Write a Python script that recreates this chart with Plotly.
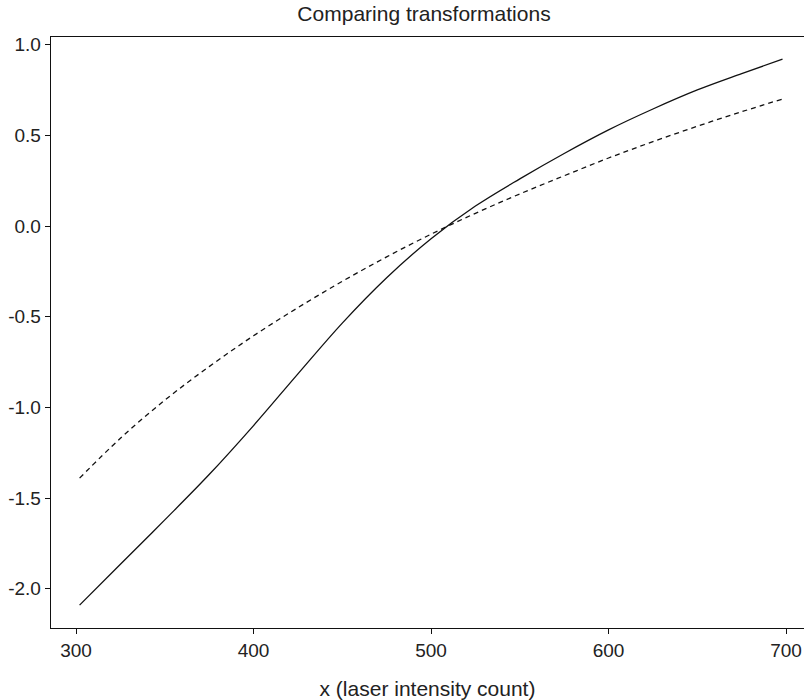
import plotly.graph_objects as go

# Data
x_vals = [302, 325, 350, 375, 400, 425, 450, 475, 500, 525, 550, 575, 600, 625, 650, 675, 698]
solid_vals = [-2.09, -1.865, -1.62, -1.37, -1.10, -0.815, -0.535, -0.285, -0.07, 0.11, 0.26,
              0.40, 0.53, 0.645, 0.75, 0.84, 0.92]
dashed_vals = [-1.39, -1.17, -0.96, -0.775, -0.605, -0.45, -0.305, -0.17, -0.045, 0.07, 0.177,
               0.277, 0.375, 0.465, 0.55, 0.63, 0.70]

x_ticks = [300, 400, 500, 600, 700]
x_tick_labels = ["300", "400", "500", "600", "700"]
y_ticks = [1.0, 0.5, 0.0, -0.5, -1.0, -1.5, -2.0]
y_tick_labels = ["1.0", "0.5", "0.0", "-0.5", "-1.0", "-1.5", "-2.0"]

title_text = "Comparing transformations"
x_title = "x (laser intensity count)"

FONT = "Liberation Sans, Arial, sans-serif"
TXT = "#222222"

fig = go.Figure()
fig.add_trace(go.Scatter(x=x_vals, y=solid_vals, mode="lines",
                         line=dict(color="#111111", width=1.3, shape="spline", smoothing=1.0),
                         showlegend=False, hoverinfo="skip"))
fig.add_trace(go.Scatter(x=x_vals, y=dashed_vals, mode="lines",
                         line=dict(color="#111111", width=1.3, dash="5px,4px", shape="spline", smoothing=1.0),
                         showlegend=False, hoverinfo="skip"))

fig.update_layout(
    width=804, height=700,
    margin=dict(l=51, r=0, t=37, b=72),
    paper_bgcolor="white", plot_bgcolor="white",
    font=dict(family=FONT, size=19, color=TXT),
    title=dict(text=title_text, x=(297 + 551) / 2 / 804, xanchor="center",
               y=1 - 14 / 700, yanchor="middle",
               font=dict(family=FONT, size=21, color=TXT)),
    showlegend=False,
    hovermode=False,
)
fig.update_xaxes(
    range=[285.9, 710.1], tickvals=x_ticks, ticktext=x_tick_labels, automargin=False,
    showgrid=False, zeroline=False, showline=True, linecolor="#111111", linewidth=1.3,
    mirror=True, ticks="outside", ticklen=5, tickwidth=1, tickcolor="#111111",
    tickfont=dict(family=FONT, size=19, color=TXT),
    title=dict(text=x_title, font=dict(family=FONT, size=21, color=TXT), standoff=22),
)
fig.update_yaxes(
    range=[-2.216, 1.042], tickvals=y_ticks, ticktext=y_tick_labels, automargin=False,
    showgrid=False, zeroline=False, showline=True, linecolor="#111111", linewidth=1.3,
    mirror=False, ticks="outside", ticklen=5, tickwidth=1, tickcolor="#111111",
    tickfont=dict(family=FONT, size=19, color=TXT),
)

fig.write_html("out.html",
               config={"displayModeBar": False, "staticPlot": True},
               post_script="document.body.style.margin='0';document.body.style.overflow='hidden';")
